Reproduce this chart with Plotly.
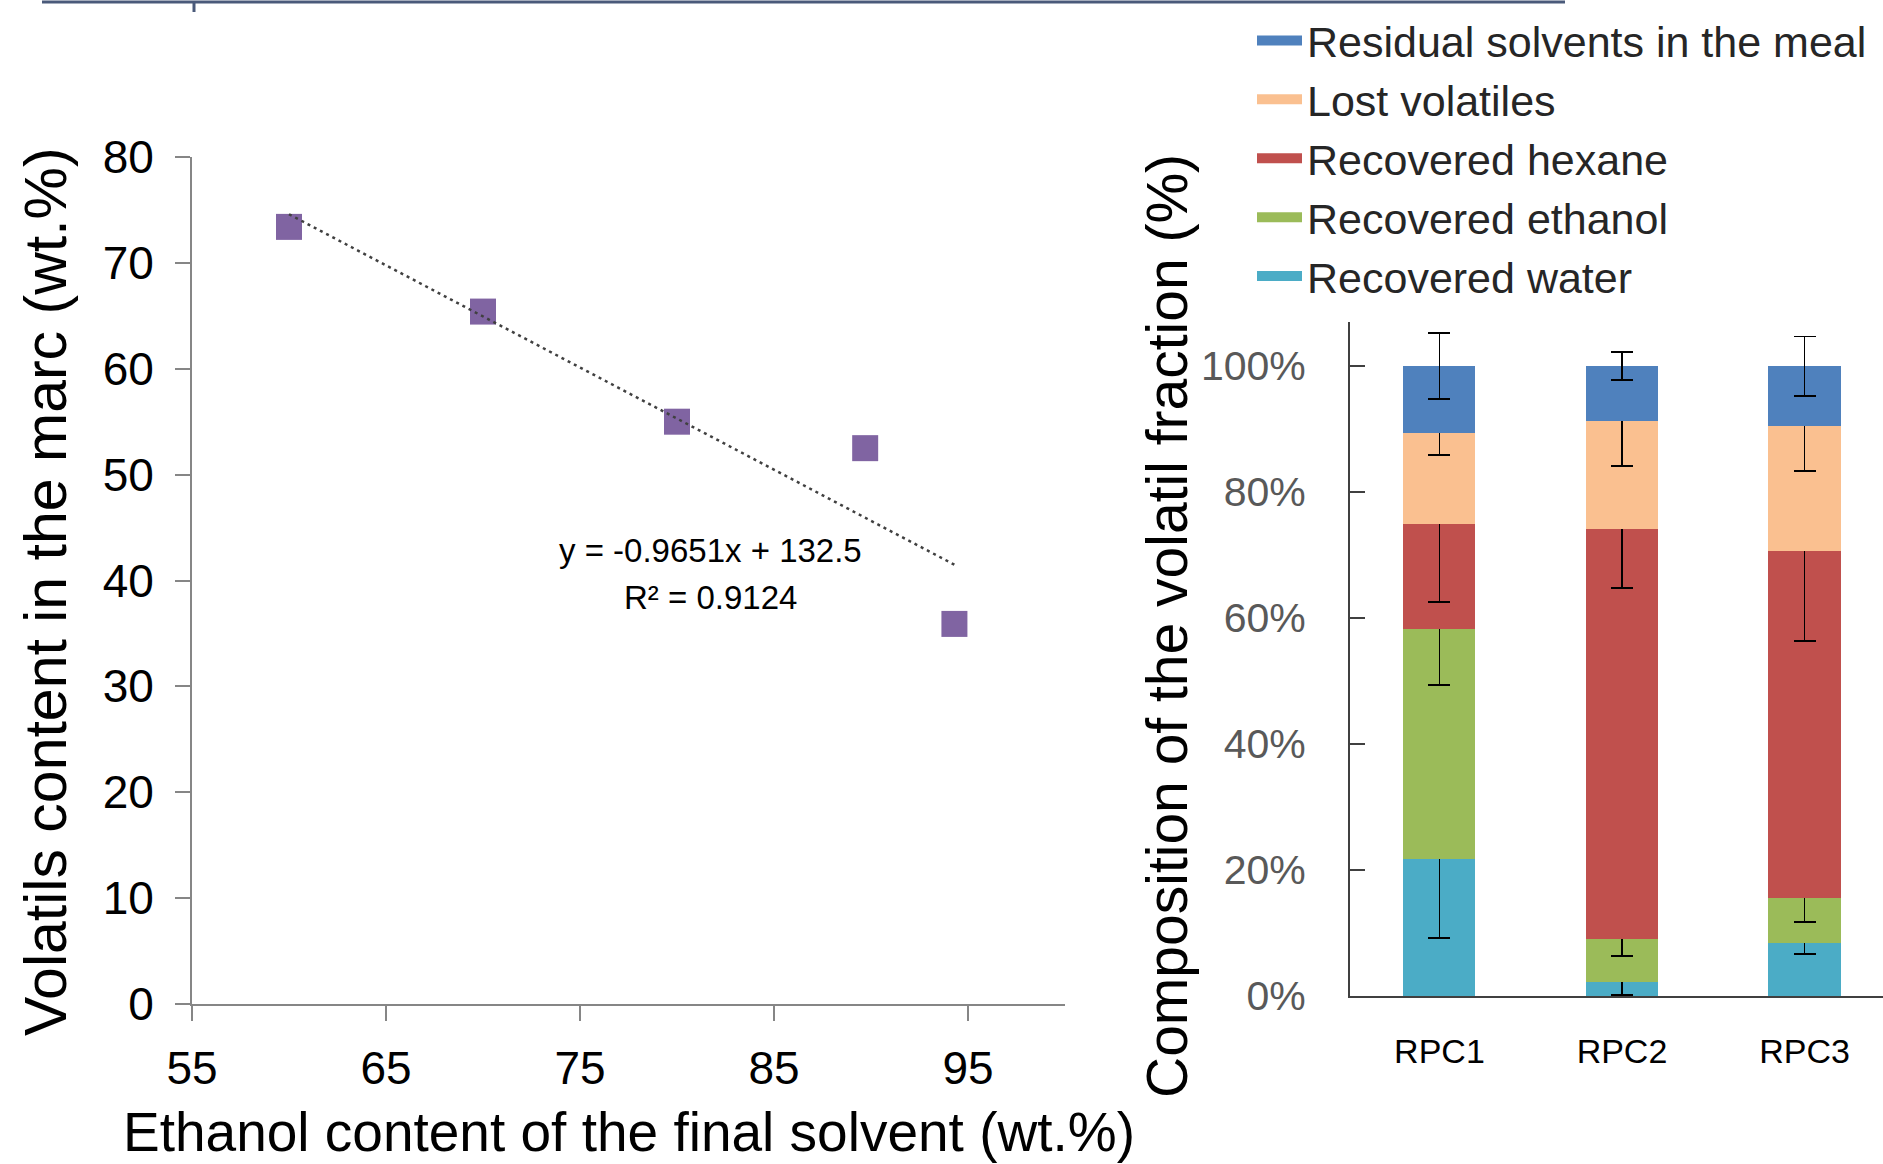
import plotly.graph_objects as go

# ---------------- data ----------------
ethanol_pct = [60, 70, 80, 89.7, 94.3]
volatils_pct = [73.4, 65.4, 55.0, 52.5, 35.9]
trend_slope = -0.9651
trend_intercept = 132.5
trend_x = [60, 94.3]
trend_text = ["y = -0.9651x + 132.5", "R² = 0.9124"]

categories = ["RPC1", "RPC2", "RPC3"]
water = [0.218, 0.023, 0.084]
ethanol = [0.365, 0.067, 0.071]
hexane = [0.167, 0.652, 0.551]
lost = [0.144, 0.171, 0.199]
residual = [0.106, 0.087, 0.095]
water_err = [0.126, 0.022, 0.017]
ethanol_err = [0.089, 0.026, 0.038]
hexane_err = [0.124, 0.094, 0.142]
lost_err = [0.035, 0.071, 0.072]
residual_err = [0.052, 0.022, 0.047]

x_ticks_left = [55, 65, 75, 85, 95]
y_ticks_left = [0, 10, 20, 30, 40, 50, 60, 70, 80]
y_ticks_right = [0, 0.2, 0.4, 0.6, 0.8, 1.0]

FONT = "Liberation Sans, Arial, sans-serif"
W, H = 1883, 1164

def px_x(p):
    return p / W

def px_y(p):
    return 1 - p / H

fig = go.Figure()

# scatter points
fig.add_trace(go.Scatter(
    x=ethanol_pct, y=volatils_pct, mode="markers",
    marker=dict(symbol="square", size=26, color="#8064A2"),
    xaxis="x", yaxis="y", showlegend=False))

# trend line
trend_y = [trend_slope * v + trend_intercept for v in trend_x]
fig.add_trace(go.Scatter(
    x=trend_x, y=trend_y, mode="lines",
    line=dict(color="#404040", width=2.5, dash="3px,4px"),
    xaxis="x", yaxis="y", showlegend=False))

# stacked bars
series = [
    ("Recovered water", water, water_err, "#4BACC6"),
    ("Recovered ethanol", ethanol, ethanol_err, "#9BBB59"),
    ("Recovered hexane", hexane, hexane_err, "#C0504D"),
    ("Lost volatiles", lost, lost_err, "#FAC090"),
    ("Residual solvents in the meal", residual, residual_err, "#4F81BD"),
]
for name, vals, errs, col in series:
    fig.add_trace(go.Bar(
        x=categories, y=vals, name=name, legendgroup=name, showlegend=False,
        marker=dict(color=col, line=dict(width=0)),
        error_y=dict(type="data", array=errs, visible=True, color="black",
                     thickness=1.8, width=11),
        xaxis="x2", yaxis="y2"))
# legend keys drawn as wide flat swatches (as in the original)
for name, vals, errs, col in series:
    fig.add_trace(go.Scatter(
        x=[None], y=[None], mode="lines", name=name, legendgroup=name,
        line=dict(color=col, width=10), xaxis="x2", yaxis="y2"))

fig.update_layout(
    width=W, height=H,
    margin=dict(l=0, r=0, t=0, b=0, pad=0, autoexpand=False),
    paper_bgcolor="white", plot_bgcolor="white",
    font=dict(family=FONT, color="black", size=40),
    barmode="stack", bargap=0.605,
    showlegend=True,
    legend=dict(x=px_x(1252), y=px_y(6), xanchor="left", yanchor="top",
                traceorder="reversed", font=dict(size=43, color="#262626"),
                bgcolor="rgba(0,0,0,0)", itemwidth=45, tracegroupgap=0),
    xaxis=dict(domain=[px_x(192), px_x(1065)], range=[55, 100],
               tickvals=x_ticks_left, ticks="outside", ticklen=15, tickwidth=2,
               tickcolor="#868686", showline=True, linecolor="#868686", linewidth=2,
               showgrid=False, zeroline=False, ticklabelstandoff=8,
               tickfont=dict(size=46, family=FONT, color="black"),
               anchor="y"),
    yaxis=dict(domain=[px_y(1004), px_y(157)], range=[0, 80],
               tickvals=y_ticks_left, ticks="outside", ticklen=15, tickwidth=2,
               tickcolor="#868686", showline=True, linecolor="#868686", linewidth=2,
               showgrid=False, zeroline=False, ticklabelstandoff=12,
               tickfont=dict(size=46, family=FONT, color="black"),
               anchor="x"),
    xaxis2=dict(domain=[px_x(1350), 1.0], range=[-0.49, 2.43],
                type="category", ticks="", showline=True, linecolor="#404040",
                linewidth=2, showgrid=False, zeroline=False, ticklabelstandoff=24,
                tickfont=dict(size=34, family=FONT, color="black"),
                anchor="y2"),
    yaxis2=dict(domain=[px_y(996), px_y(322)], range=[0, 1.07],
                tickvals=y_ticks_right, tickformat=".0%", ticks="inside",
                ticklen=15, tickwidth=2, tickcolor="#404040",
                showline=True, linecolor="#404040", linewidth=2,
                showgrid=False, zeroline=False, ticklabelstandoff=34,
                tickfont=dict(size=41, family=FONT, color="#595959"),
                anchor="x2"),
)

annotations = [
    dict(text="Ethanol content of the final solvent (wt.%)", x=px_x(629), y=px_y(1132),
         xref="paper", yref="paper", showarrow=False, font=dict(size=55, family=FONT),
         xanchor="center", yanchor="middle"),
    dict(text="Volatils content in the marc (wt.%)", x=px_x(46), y=px_y(592),
         xref="paper", yref="paper", showarrow=False, textangle=-90,
         font=dict(size=59, family=FONT), xanchor="center", yanchor="middle"),
    dict(text="Composition of the volatil fraction (%)", x=px_x(1167), y=px_y(626),
         xref="paper", yref="paper", showarrow=False, textangle=-90,
         font=dict(size=57, family=FONT), xanchor="center", yanchor="middle"),
    dict(text=trend_text[0], x=px_x(710), y=px_y(550), xref="paper", yref="paper",
         showarrow=False, font=dict(size=33, family=FONT, color="black"),
         xanchor="center", yanchor="middle"),
    dict(text=trend_text[1], x=px_x(710), y=px_y(597), xref="paper", yref="paper",
         showarrow=False, font=dict(size=33, family=FONT, color="black"),
         xanchor="center", yanchor="middle"),
]
fig.update_layout(annotations=annotations)

# frame line at the top edge (cropped border of the original figure)
fig.add_shape(type="line", xref="paper", yref="paper",
              x0=px_x(42), x1=px_x(1565), y0=px_y(2), y1=px_y(2),
              line=dict(color="#4A5A7A", width=3))
fig.add_shape(type="line", xref="paper", yref="paper",
              x0=px_x(194), x1=px_x(194), y0=px_y(2), y1=px_y(12),
              line=dict(color="#4A5A7A", width=3))

fig.write_html("out.html", config={"displayModeBar": False},
               post_script="document.body.style.margin='0px';document.body.style.overflow='hidden';")
